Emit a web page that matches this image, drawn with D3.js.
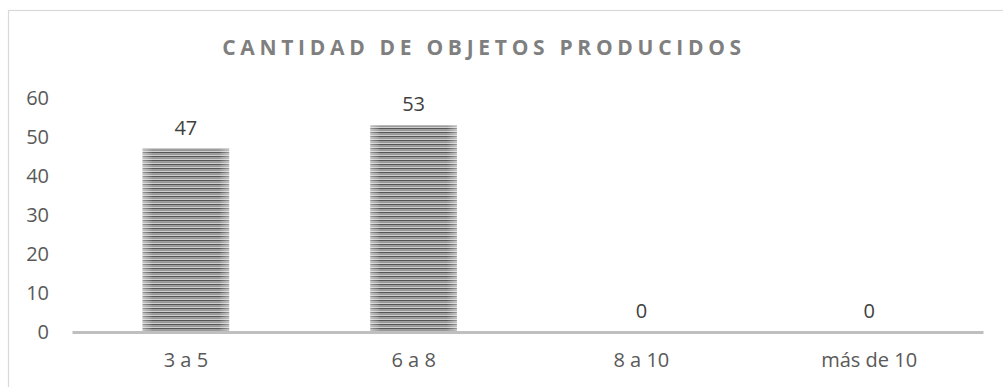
<!DOCTYPE html>
<html><head><meta charset="utf-8">
<script src="https://cdn.jsdelivr.net/npm/d3@7"></script>
<style>body{margin:0;background:#fff}svg{display:block}</style>
</head><body><svg id="c" width="1003" height="387"></svg>
<script>
const categories = ["3 a 5", "6 a 8", "8 a 10", "más de 10"];
const values = [47, 53, 0, 0];
const yTicks = [0, 10, 20, 30, 40, 50, 60];
const title = "CANTIDAD DE OBJETOS PRODUCIDOS";

const svg = d3.select("#c");
const font = "'Open Sans','Noto Sans',sans-serif";
const defs = svg.append("defs");
const pat = defs.append("pattern").attr("id","stripes").attr("patternUnits","userSpaceOnUse")
  .attr("width",8).attr("height",4);
pat.append("rect").attr("width",8).attr("height",4).attr("fill","#cfcfcf");
pat.append("rect").attr("y",0).attr("width",8).attr("height",1.4).attr("fill","#555");
pat.append("rect").attr("y",2).attr("width",8).attr("height",0.8).attr("fill","#8a8a8a");
const grad = defs.append("linearGradient").attr("id","shade").attr("x1","0").attr("x2","1");
grad.append("stop").attr("offset","0").attr("stop-color","#fff").attr("stop-opacity",0.4);
grad.append("stop").attr("offset","0.12").attr("stop-color","#fff").attr("stop-opacity",0);
grad.append("stop").attr("offset","0.88").attr("stop-color","#fff").attr("stop-opacity",0);
grad.append("stop").attr("offset","1").attr("stop-color","#fff").attr("stop-opacity",0.4);

// frame
svg.append("rect").attr("x",8.5).attr("y",10.5).attr("width",1100).attr("height",500)
  .attr("fill","none").attr("stroke","#d9d9d9").attr("stroke-width",1.2);

const x = d3.scaleBand().domain(categories).range([72, 983]).paddingInner(0.62).paddingOuter(0.31);
const y = d3.scaleLinear().domain([0, 60]).range([332, 98]);

svg.append("text").attr("x",484).attr("y",55).attr("text-anchor","middle")
  .attr("font-family",font).attr("font-weight","bold").attr("font-size",21)
  .attr("fill","#7f7f7f").attr("letter-spacing","4.7px").text(title);

// y axis labels
const ya = svg.append("g").attr("transform","translate(49,0)")
  .call(d3.axisLeft(y).tickValues(yTicks).tickSize(0).tickPadding(0));
ya.select(".domain").remove();
ya.selectAll("text").attr("font-family",font).attr("font-size",20).attr("fill","#595959");

// bars
const bars = svg.append("g");
bars.selectAll("rect.b").data(values).join("rect").attr("class","b")
  .attr("x",(d,i)=>x(categories[i])).attr("width",x.bandwidth())
  .attr("y",d=>y(d)).attr("height",d=>y(0)-y(d)).attr("fill","url(#stripes)");
bars.selectAll("rect.s").data(values).join("rect").attr("class","s")
  .attr("x",(d,i)=>x(categories[i])).attr("width",x.bandwidth())
  .attr("y",d=>y(d)).attr("height",d=>y(0)-y(d)).attr("fill","url(#shade)");

// x axis
const xa = svg.append("g").attr("transform","translate(0,332)")
  .call(d3.axisBottom(x).tickSize(0).tickPadding(21));
xa.select(".domain").attr("stroke","#bfbfbf").attr("stroke-width",3);
xa.selectAll("text").attr("font-family",font).attr("font-size",20).attr("fill","#595959");

// value labels
svg.append("g").selectAll("text").data(values).join("text")
  .attr("x",(d,i)=>x(categories[i])+x.bandwidth()/2).attr("y",d=>y(d)-14)
  .attr("text-anchor","middle").attr("font-family",font).attr("font-size",20)
  .attr("fill","#404040").text(d=>d);
</script></body></html>
